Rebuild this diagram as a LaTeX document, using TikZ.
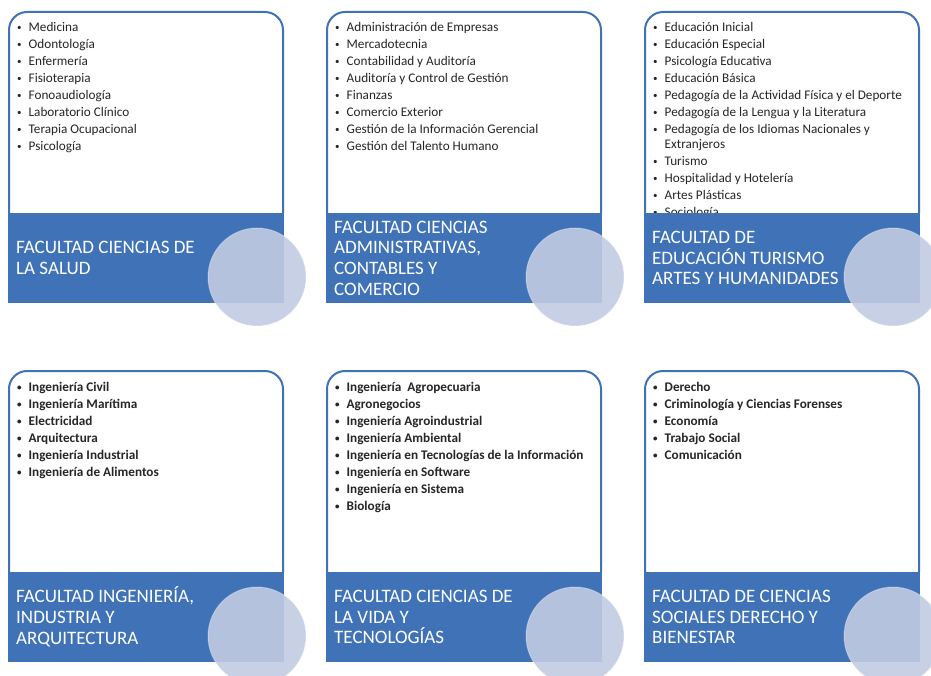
\documentclass[tikz,border=0pt]{standalone}
\usepackage{fontspec}
\setmainfont{Carlito}
\usetikzlibrary{positioning}
\pgfdeclarelayer{background}
\pgfdeclarelayer{foreground}
\pgfsetlayers{background,main,foreground}
\definecolor{azul}{RGB}{64,114,184}
\definecolor{lila}{RGB}{194,203,227}
\definecolor{texto}{RGB}{38,38,38}
\newcommand{\Vin}{\makebox[11.5pt][l]{\raisebox{1pt}{\fontsize{9}{9}\selectfont\textbullet}}}
\tikzset{
    marco/.style={draw=azul, line width=2pt, fill=white, rounded corners=18pt},
    banda/.style={fill=azul},
    circulo/.style={fill=lila, fill opacity=0.9, draw=white, draw opacity=0.3, line width=1pt},
    titulo/.style={anchor=west, align=left, text=white, inner sep=0pt, font=\fontsize{19}{20.7}\selectfont},
    carrera/.style={anchor=base west, inner sep=0pt, text=texto, font=\fontsize{13.2}{15}\selectfont},
    negrita/.style={carrera, font=\fontsize{13.2}{15}\selectfont\bfseries},
}
% #1 nombre, #2 x izquierda, #3 y arriba, #4 titulo
\newcommand{\Facultad}[4]{%
    \begin{pgfonlayer}{background}
      \draw[marco] (#2,#3+201) -- (#2,#3) -- (#2+274,#3) -- (#2+274,#3+201);
    \end{pgfonlayer}
    \begin{pgfonlayer}{foreground}
      \fill[banda] (#2-1,#3+201) rectangle (#2+275,#3+291);
      \filldraw[circulo] (#2+248,#3+265) circle[radius=49pt];
      \node[titulo] (#1) at (#2+7,#3+246) {#4};
    \end{pgfonlayer}
}

\begin{document}
\begin{tikzpicture}[x=1pt, y=-1pt]
    \useasboundingbox (0,0) rectangle (931,676);

    \Facultad{salud}{9}{12}{FACULTAD CIENCIAS DE\\LA SALUD}
    \Facultad{admin}{327}{12}{FACULTAD CIENCIAS\\ADMINISTRATIVAS,\\CONTABLES Y\\COMERCIO}
    \Facultad{educ}{645}{12}{FACULTAD DE\\EDUCACIÓN TURISMO\\ARTES Y HUMANIDADES}
    \Facultad{ing}{9}{371}{FACULTAD INGENIERÍA,\\INDUSTRIA Y\\ARQUITECTURA}
    \Facultad{vida}{327}{371}{FACULTAD CIENCIAS DE\\LA VIDA Y\\TECNOLOGÍAS}
    \Facultad{social}{645}{371}{FACULTAD DE CIENCIAS\\SOCIALES DERECHO Y\\BIENESTAR}

    % carreras
    \foreach \t [count=\i] in {Medicina, Odontología, Enfermería, Fisioterapia,
      Fonoaudiología, Laboratorio Clínico, Terapia Ocupacional, Psicología}
      \node[carrera] (salud-\i) at (17,{15+17*\i}) {\Vin\t};

    \foreach \t [count=\i] in {Administración de Empresas, Mercadotecnia,
      Contabilidad y Auditoría, Auditoría y Control de Gestión, Finanzas,
      Comercio Exterior, Gestión de la Información Gerencial, Gestión del Talento Humano}
      \node[carrera] (admin-\i) at (335,{15+17*\i}) {\Vin\t};

    \foreach \y/\t [count=\i] in {32/Educación Inicial, 49/Educación Especial,
      66/Psicología Educativa, 83/Educación Básica,
      100/Pedagogía de la Actividad Física y el Deporte,
      117/Pedagogía de la Lengua y la Literatura,
      134/Pedagogía de los Idiomas Nacionales y, 166/Turismo,
      183/Hospitalidad y Hotelería, 200/Artes Plásticas, 217/Sociología}
      \node[carrera] (educ-\i) at (653,\y) {\Vin\t};
    \node[carrera] (educ-7b) at (664.5,149) {Extranjeros};

    \foreach \t [count=\i] in {Ingeniería Civil, Ingeniería Marítima, Electricidad,
      Arquitectura, Ingeniería Industrial, Ingeniería de Alimentos}
      \node[negrita] (ing-\i) at (17,{374+17*\i}) {\Vin\t};

    \foreach \t [count=\i] in {Ingeniería\ \ Agropecuaria, Agronegocios,
      Ingeniería Agroindustrial, Ingeniería Ambiental,
      Ingeniería en Tecnologías de la Información, Ingeniería en Software,
      Ingeniería en Sistema, Biología}
      \node[negrita] (vida-\i) at (335,{374+17*\i}) {\Vin\t};

    \foreach \t [count=\i] in {Derecho, Criminología y Ciencias Forenses, Economía,
      Trabajo Social, Comunicación}
      \node[negrita] (social-\i) at (653,{374+17*\i}) {\Vin\t};
\end{tikzpicture}
\end{document}
